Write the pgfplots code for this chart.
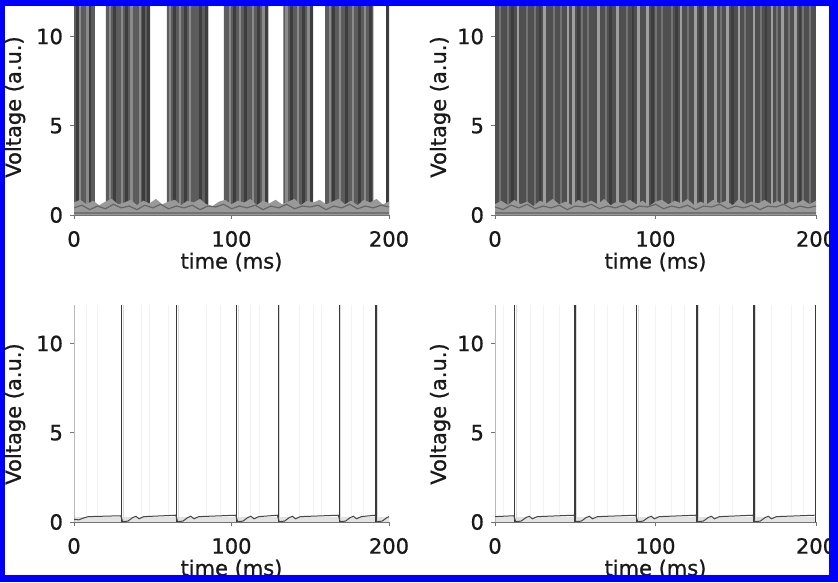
\documentclass[border=0pt]{standalone}
\usepackage{fontspec}
\setmainfont{DejaVu Sans}[FakeBold=0.9]
\usepackage{pgfplots}
\pgfplotsset{compat=1.18}
\definecolor{frameblue}{RGB}{0,0,250}
\definecolor{spk}{gray}{0.36}
\definecolor{spkdark}{gray}{0.24}
\definecolor{spklight}{gray}{0.54}
\definecolor{trbase}{gray}{0.31}
\definecolor{trmed}{gray}{0.45}
\definecolor{trlight}{gray}{0.62}
\definecolor{band}{gray}{0.6}
\definecolor{axgray}{gray}{0.45}
\pgfplotsset{
  panel/.style={
    scale only axis, anchor=south west,
    xmin=0, xmax=200, ymin=0, ymax=12.1,
    xtick={0,100,200}, ytick={0,5,10},
    axis lines=left, axis line style={-, axgray, line width=0.4pt},
    tick style={axgray, line width=0.4pt}, tick align=outside, major tick length=2pt,
    tick label style={font=\fontsize{10.5}{12}\selectfont, text=black!90},
    label style={font=\fontsize{10.5}{12}\selectfont, text=black!90},
    /pgf/number format/assume math mode=true,
    xticklabel style={yshift=-2.5pt},
    xlabel={time (ms)}, ylabel={Voltage (a.u.)},
    xlabel style={at={(axis description cs:0.5,0)}, anchor=center, yshift=-23.5pt},
    height=108pt,
  },
}
\begin{document}
\begin{tikzpicture}
\useasboundingbox (0,0) rectangle (419pt,291pt);
\fill[white] (0,0) rectangle (419pt,291pt);

% ---------------- top left ----------------
\begin{axis}[panel, at={(37pt,183.5pt)}, width=157.5pt,
  ylabel style={at={(axis description cs:-0.187,0.5)}, anchor=center}]
\addplot[const plot, fill=spk, draw=none] coordinates {
(0,13)(13.3,0)(20.3,13)(48.3,0)(58.9,13)(85.3,0)(95.2,13)(123.4,0)(132.9,13)(151.9,0)(159.4,13)(190,0)(198.5,13)(200,13)} \closedcycle;
\addplot[ycomb, spkdark, line width=1.5pt] coordinates {
(2,13)(10,13)(26,13)(33.4,13)(44,13)(47,13)(64.1,13)(70.5,13)(80,13)(84,13)(102,13)(109,13)(117,13)(122,13)(138,13)(145.5,13)(150.5,13)(165,13)(173,13)(181,13)(188,13)(199.3,13)};
\addplot[ycomb, spklight, line width=1.2pt] coordinates {
(3.8,13)(8.5,13)(22.9,13)(30.3,13)(36.6,13)(41.9,13)(61,13)(67.3,13)(73.7,13)(99,13)(105.4,13)(113.8,13)(120.2,13)(135,13)(142.4,13)(148.8,13)(162.5,13)(168.9,13)(177.3,13)(184.8,13)};
\addplot[fill=band, draw=none] coordinates {
(0,0.7)(4,0.85)(8,0.6)(12,0.8)(16,0.55)(20,0.75)(24,0.9)(28,0.6)(32,0.7)(36,0.85)(40,0.55)(44,0.8)(48,0.65)(52,0.9)(56,0.6)(60,0.75)(64,0.85)(68,0.55)(72,0.8)(76,0.7)(80,0.9)(84,0.6)(88,0.5)(92,0.75)(96,0.85)(100,0.6)(104,0.8)(108,0.7)(112,0.9)(116,0.55)(120,0.8)(124,0.65)(128,0.85)(132,0.6)(136,0.75)(140,0.9)(144,0.55)(148,0.8)(152,0.7)(156,0.85)(160,0.6)(164,0.75)(168,0.9)(172,0.6)(176,0.8)(180,0.55)(184,0.85)(188,0.7)(192,0.9)(196,0.6)(200,0.75)} \closedcycle;
\addplot[gray!80!black, line width=0.6pt] coordinates {
(0,0.4)(5,0.55)(10,0.3)(15,0.5)(20,0.35)(25,0.6)(30,0.4)(35,0.5)(40,0.3)(45,0.55)(50,0.4)(55,0.6)(60,0.35)(65,0.5)(70,0.4)(75,0.55)(80,0.3)(85,0.5)(90,0.45)(95,0.6)(100,0.35)(105,0.5)(110,0.4)(115,0.55)(120,0.3)(125,0.5)(130,0.4)(135,0.6)(140,0.35)(145,0.5)(150,0.45)(155,0.55)(160,0.3)(165,0.5)(170,0.4)(175,0.6)(180,0.35)(185,0.5)(190,0.4)(195,0.55)(200,0.45)};
\addplot[gray!90!black, line width=0.8pt] coordinates {(0,0.12)(200,0.12)};
\end{axis}

% ---------------- top right ----------------
\begin{axis}[panel, at={(247.5pt,183.5pt)}, width=160.5pt,
  ylabel style={at={(axis description cs:-0.171,0.5)}, anchor=center}]
\addplot[fill=trbase, draw=none] coordinates {(0,13)(200,13)} \closedcycle;
\addplot[ycomb, trmed, line width=1pt] coordinates {
(3,13)(8,13)(20,13)(25,13)(37,13)(41,13)(54,13)(58,13)(69,13)(82,13)(100,13)(104,13)(110,13)(120,13)(141,13)(156,13)(166,13)(176,13)(183,13)(192,13)(196,13)};
\addplot[ycomb, spkdark, line width=1.2pt] coordinates {
(11,13)(28,13)(52,13)(72,13)(86,13)(98,13)(113,13)(128,13)(148,13)(169,13)(190,13)};
\addplot[ycomb, trlight, line width=1.3pt] coordinates {
(14.4,13)(31,13)(45.6,13)(48.8,13)(64.4,13)(76.5,13)(89.4,13)(95,13)(115.8,13)(124.8,13)(131,13)(137.5,13)(145,13)(151.9,13)(161.3,13)(172.7,13)(179,13)(187.4,13)};
\addplot[fill=band, draw=none] coordinates {
(0,0.6)(4,0.8)(8,0.55)(12,0.85)(16,0.6)(20,0.75)(24,0.5)(28,0.8)(32,0.65)(36,0.9)(40,0.6)(44,0.75)(48,0.55)(52,0.85)(56,0.65)(60,0.8)(64,0.6)(68,0.9)(72,0.55)(76,0.75)(80,0.65)(84,0.85)(88,0.6)(92,0.8)(96,0.5)(100,0.75)(104,0.85)(108,0.6)(112,0.8)(116,0.65)(120,0.9)(124,0.55)(128,0.75)(132,0.6)(136,0.85)(140,0.65)(144,0.8)(148,0.55)(152,0.9)(156,0.6)(160,0.75)(164,0.65)(168,0.85)(172,0.6)(176,0.8)(180,0.55)(184,0.75)(188,0.65)(192,0.85)(196,0.6)(200,0.8)} \closedcycle;
\addplot[gray!80!black, line width=0.6pt] coordinates {
(0,0.45)(5,0.3)(10,0.55)(15,0.4)(20,0.6)(25,0.35)(30,0.5)(35,0.4)(40,0.55)(45,0.3)(50,0.5)(55,0.45)(60,0.6)(65,0.35)(70,0.5)(75,0.4)(80,0.55)(85,0.3)(90,0.5)(95,0.45)(100,0.6)(105,0.35)(110,0.5)(115,0.4)(120,0.55)(125,0.3)(130,0.5)(135,0.45)(140,0.6)(145,0.35)(150,0.5)(155,0.4)(160,0.55)(165,0.3)(170,0.5)(175,0.45)(180,0.6)(185,0.35)(190,0.5)(195,0.4)(200,0.5)};
\addplot[gray!90!black, line width=0.8pt] coordinates {(0,0.12)(200,0.12)};
\end{axis}

% ---------------- bottom left ----------------
\begin{axis}[panel, at={(37pt,30pt)}, width=157.5pt,
  ylabel style={at={(axis description cs:-0.187,0.5)}, anchor=center}]
\addplot[ycomb, gray!10, line width=0.5pt] coordinates {
(8,13)(15,13)(43,13)(48,13)(60,13)(84,13)(93,13)(112,13)(118,13)(143,13)(152,13)(157,13)(176,13)(184,13)};
\addplot[fill=gray!22, draw=none] coordinates {(0,0.28)(200,0.28)} \closedcycle;
\addplot[ycomb, gray!55, line width=0.6pt] coordinates {(0.4,13)};
\addplot[ycomb, gray!30, line width=0.6pt] coordinates {
(31.3,13)(66.2,13)(104.3,13)(130.7,13)(169.4,13)(192.7,13)};
\addplot[ycomb, gray!45!black, line width=0.6pt] coordinates {
(30.3,13)(65.2,13)(103.3,13)(129.7,13)(168.4,13)(191.7,13)};
\addplot[gray!55!black, line width=0.5pt] coordinates {
(0,0.15)(3,0.12)(6,0.22)(9,0.3)(29.7,0.35)
(30.9,0.02)(34.3,0.05)(37.3,0.25)(39.3,0.32)(41.3,0.18)(44.3,0.3)(64.6,0.38)
(65.8,0.02)(69.2,0.05)(72.2,0.25)(74.2,0.32)(76.2,0.18)(79.2,0.3)(102.7,0.38)
(103.9,0.02)(107.3,0.05)(110.3,0.25)(112.3,0.32)(114.3,0.18)(117.3,0.3)(129.1,0.38)
(130.3,0.02)(133.7,0.05)(136.7,0.25)(138.7,0.32)(140.7,0.18)(143.7,0.3)(167.8,0.38)
(169,0.02)(172.4,0.05)(175.4,0.25)(177.4,0.32)(179.4,0.18)(182.4,0.3)(191.1,0.38)
(192.3,0.02)(195.7,0.05)(198.7,0.25)(200,0.3)};
\end{axis}

% ---------------- bottom right ----------------
\begin{axis}[panel, at={(247.5pt,30pt)}, width=160.5pt,
  ylabel style={at={(axis description cs:-0.171,0.5)}, anchor=center}]
\addplot[ycomb, gray!10, line width=0.5pt] coordinates {
(5,13)(22,13)(30,13)(40,13)(62,13)(70,13)(80,13)(100,13)(110,13)(118,13)(140,13)(148,13)(172,13)(185,13)(192,13)};
\addplot[fill=gray!22, draw=none] coordinates {(0,0.28)(200,0.28)} \closedcycle;
\addplot[ycomb, gray!55, line width=0.6pt] coordinates {(0.4,13)};
\addplot[ycomb, gray!30, line width=0.6pt] coordinates {
(13.3,13)(50.8,13)(89.3,13)(126.8,13)(162.3,13)};
\addplot[ycomb, gray!45!black, line width=0.6pt] coordinates {
(12.3,13)(49.8,13)(88.3,13)(125.8,13)(161.3,13)(199.8,13)};
\addplot[gray!55!black, line width=0.5pt] coordinates {
(0,0.3)(11.7,0.35)
(12.9,0.02)(16.3,0.05)(19.3,0.25)(21.3,0.32)(23.3,0.18)(26.3,0.3)(49.2,0.38)
(50.4,0.02)(53.8,0.05)(56.8,0.25)(58.8,0.32)(60.8,0.18)(63.8,0.3)(87.7,0.38)
(88.9,0.02)(92.3,0.05)(95.3,0.25)(97.3,0.32)(99.3,0.18)(102.3,0.3)(125.2,0.38)
(126.4,0.02)(129.8,0.05)(132.8,0.25)(134.8,0.32)(136.8,0.18)(139.8,0.3)(160.7,0.38)
(161.9,0.02)(165.3,0.05)(168.3,0.25)(170.3,0.32)(172.3,0.18)(175.3,0.3)(199.2,0.38)};
\end{axis}

% blue frame
\fill[frameblue] (0,0) rectangle (2.5pt,291pt);
\fill[frameblue] (0,288pt) rectangle (419pt,291pt);
\fill[frameblue] (414.5pt,0) rectangle (419pt,291pt);
\fill[frameblue] (0,0) rectangle (419pt,3.5pt);
\end{tikzpicture}
\end{document}
